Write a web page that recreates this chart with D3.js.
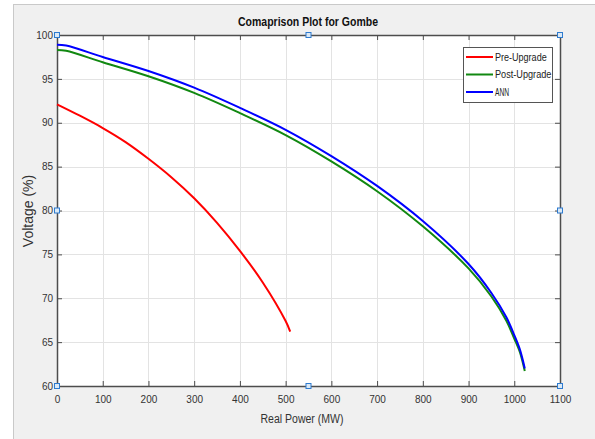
<!DOCTYPE html>
<html>
<head>
<meta charset="utf-8">
<script src="https://cdn.jsdelivr.net/npm/d3@7"></script>
<style>
  body { margin: 0; background: #fff; }
  svg { display: block; font-family: "Liberation Sans", Arial, sans-serif; }
</style>
</head>
<body>
<svg id="chart" width="595" height="439"></svg>
<script>
// Data (MW, %)
var prePower  = [0, 50, 100, 150, 200, 250, 300, 350, 400, 450, 500, 510];
var preVolt   = [92.1, 90.8, 89.4, 87.8, 85.9, 83.8, 81.4, 78.6, 75.4, 71.8, 67.4, 66.2];

var postPower = [0, 20, 100, 200, 300, 400, 500, 600, 700, 800, 900, 950, 983, 1000, 1012, 1023];
var postVolt  = [98.3, 98.2, 96.9, 95.3, 93.4, 91.1, 88.6, 85.6, 82.2, 78.2, 73.4, 70.2, 67.4, 65.4, 63.9, 61.7];

var annPower  = [0, 20, 100, 200, 300, 400, 500, 600, 700, 800, 900, 950, 983, 1000, 1012, 1023];
var annVolt   = [98.9, 98.8, 97.5, 95.9, 94.0, 91.7, 89.2, 86.2, 82.8, 78.8, 73.9, 70.6, 67.8, 65.8, 64.2, 62.0];

var seriesNames = ["Pre-Upgrade", "Post-Upgrade", "ANN"];
var xTicks = [0, 100, 200, 300, 400, 500, 600, 700, 800, 900, 1000, 1100];
var yTicks = [60, 65, 70, 75, 80, 85, 90, 95, 100];

var series = [
    {name: seriesNames[0], color: "#ff0000", pts: d3.zip(prePower, preVolt)},
    {name: seriesNames[1], color: "#118811", pts: d3.zip(postPower, postVolt)},
    {name: seriesNames[2], color: "#0000ff", pts: d3.zip(annPower, annVolt)}
];

var svg = d3.select("#chart");
var pLeft = 57, pRight = 560, pTop = 35, pBottom = 386;

// figure background
svg.append("rect").attr("x", 13.5).attr("y", 4.5).attr("width", 600).attr("height", 450)
    .attr("fill", "#f0f0f0").attr("stroke", "#c9c9c9");

var x = d3.scaleLinear().domain([0, 1100]).range([pLeft, pRight]);
var y = d3.scaleLinear().domain([60, 100]).range([pBottom, pTop]);

svg.append("rect").attr("x", pLeft).attr("y", pTop)
    .attr("width", pRight - pLeft).attr("height", pBottom - pTop).attr("fill", "#fff");

// grid
var grid = svg.append("g").attr("stroke", "#e3e3e3").attr("stroke-width", 1);
xTicks.forEach(function (t) {
    grid.append("line").attr("x1", Math.round(x(t)) + 0.5).attr("x2", Math.round(x(t)) + 0.5)
        .attr("y1", pTop).attr("y2", pBottom);
});
yTicks.forEach(function (t) {
    grid.append("line").attr("y1", Math.round(y(t)) + 0.5).attr("y2", Math.round(y(t)) + 0.5)
        .attr("x1", pLeft).attr("x2", pRight);
});

// axes (MATLAB style box, ticks inward)
var axColor = "#4d4d4d";
function styleAxis(g) {
    g.select(".domain").attr("stroke", axColor).attr("stroke-width", 1.5);
    g.selectAll(".tick line").attr("stroke", axColor);
    g.selectAll(".tick text").attr("fill", "#333").attr("font-size", "10px");
}
svg.append("g").attr("transform", "translate(0," + pBottom + ")")
    .call(d3.axisBottom(x).tickValues(xTicks).tickFormat(d3.format("d"))
        .tickSizeInner(-5).tickSizeOuter(0).tickPadding(10))
    .call(styleAxis);
svg.append("g").attr("transform", "translate(0," + pTop + ")")
    .call(d3.axisTop(x).tickValues(xTicks).tickSizeInner(-5).tickSizeOuter(0).tickFormat(""))
    .call(styleAxis);
svg.append("g").attr("transform", "translate(" + pLeft + ",0)")
    .call(d3.axisLeft(y).tickValues(yTicks).tickSizeInner(-5).tickSizeOuter(0).tickPadding(4))
    .call(styleAxis);
svg.append("g").attr("transform", "translate(" + pRight + ",0)")
    .call(d3.axisRight(y).tickValues(yTicks).tickSizeInner(-5).tickSizeOuter(0).tickFormat(""))
    .call(styleAxis);

// curves
var line = d3.line().x(function (d) { return x(d[0]); }).y(function (d) { return y(d[1]); })
    .curve(d3.curveCatmullRom.alpha(0.5));
series.forEach(function (s) {
    svg.append("path").datum(s.pts).attr("d", line)
        .attr("fill", "none").attr("stroke", s.color).attr("stroke-width", 2);
});

// title and labels
svg.append("text").attr("x", 308).attr("y", 26).attr("text-anchor", "middle")
    .attr("font-weight", "bold").attr("font-size", "12px").attr("fill", "#111")
    .attr("textLength", 140).attr("lengthAdjust", "spacingAndGlyphs")
    .text("Comaprison Plot for Gombe");
svg.append("text").attr("x", 302).attr("y", 423).attr("text-anchor", "middle")
    .attr("font-size", "12px").attr("fill", "#333")
    .attr("textLength", 83).attr("lengthAdjust", "spacingAndGlyphs")
    .text("Real Power (MW)");
svg.append("text").attr("transform", "translate(33,211) rotate(-90)").attr("text-anchor", "middle")
    .attr("font-size", "14px").attr("fill", "#333")
    .text("Voltage (%)");

// legend
var lg = svg.append("g").attr("transform", "translate(463,47)");
lg.append("rect").attr("x", 0.5).attr("y", 0.5).attr("width", 89).attr("height", 55)
    .attr("fill", "#fff").attr("stroke", "#555");
series.forEach(function (s, i) {
    var yy = 10 + i * 17.5;
    lg.append("line").attr("x1", 3).attr("x2", 30).attr("y1", yy).attr("y2", yy)
        .attr("stroke", s.color).attr("stroke-width", 2);
    lg.append("text").attr("x", 32).attr("y", yy + 3.5).attr("font-size", "10px").attr("fill", "#222")
        .attr("textLength", s.name.length * 4.7).attr("lengthAdjust", "spacingAndGlyphs")
        .text(s.name);
});

// selection handles
var handles = [[pLeft, pTop], [(pLeft + pRight) / 2, pTop], [pRight, pTop], [pLeft, (pTop + pBottom) / 2],
    [pRight, (pTop + pBottom) / 2], [pLeft, pBottom], [(pLeft + pRight) / 2, pBottom], [pRight, pBottom]];
svg.append("g").selectAll("rect").data(handles).enter().append("rect")
    .attr("x", function (d) { return d[0] - 2.5; }).attr("y", function (d) { return d[1] - 2.5; })
    .attr("width", 5).attr("height", 5)
    .attr("fill", "#dbe9f6").attr("stroke", "#2e7bcf").attr("stroke-width", 1);
</script>
</body>
</html>
